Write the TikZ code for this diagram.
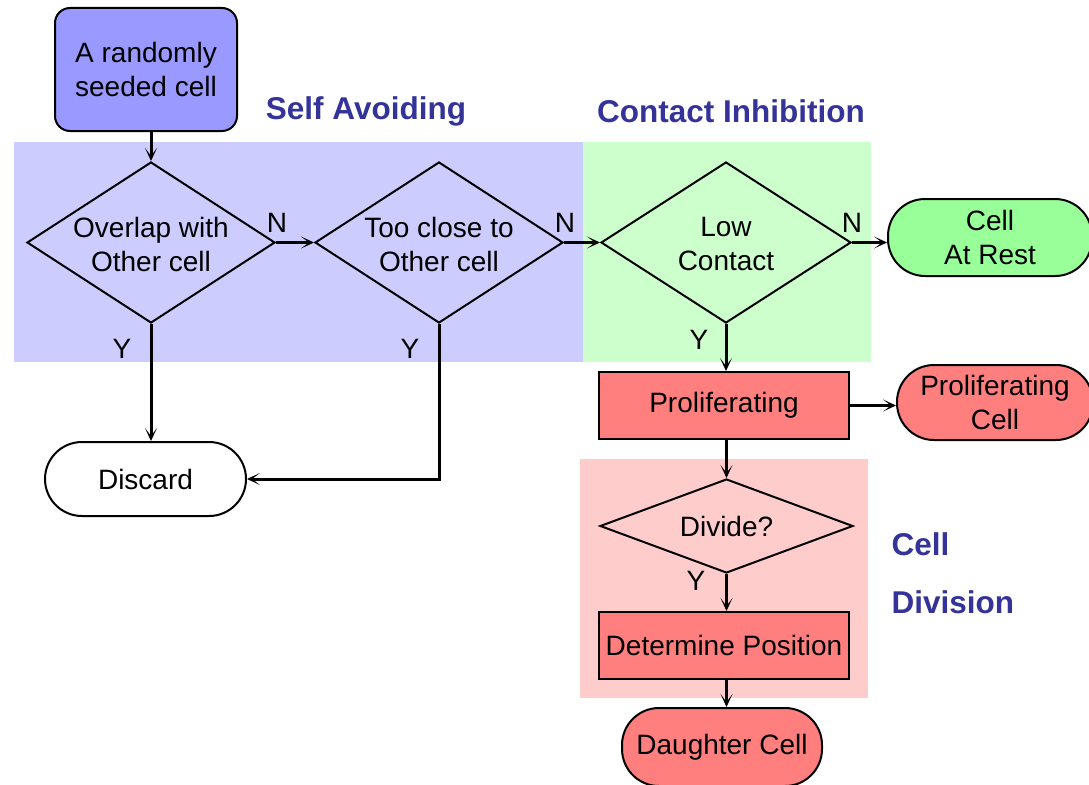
\documentclass[tikz,border=0pt]{standalone}
\usepackage{fontspec}
\setmainfont{Liberation Sans}
\usetikzlibrary{arrows.meta,shapes.geometric}
\definecolor{seedblue}{HTML}{9999FF}
\definecolor{bgblue}{HTML}{CCCCFF}
\definecolor{bggreen}{HTML}{CCFFCC}
\definecolor{restgreen}{HTML}{99FF99}
\definecolor{bgpink}{HTML}{FFCCCC}
\definecolor{salmon}{HTML}{FF7F7F}
\definecolor{hdrblue}{HTML}{333399}
\begin{document}
\begin{tikzpicture}[x=1pt,y=-1pt,
  every node/.style={font=\fontsize{28}{34}\selectfont, align=center},
  shp/.style={draw, line width=2pt, inner sep=0pt},
  boxr/.style={shp, rectangle},
  stad/.style={shp, rectangle, rounded corners=37pt},
  dia/.style={shp, diamond},
  hdr/.style={font=\fontsize{31.5}{36}\bfseries\selectfont, text=hdrblue},
  lbl/.style={font=\fontsize{28}{34}\selectfont},
  conn/.style={line width=3pt, -{Stealth[length=13pt,width=12pt,inset=8pt]}}]
\useasboundingbox (0,0) rectangle (1089,784);
\clip (0,0) rectangle (1089,784);
% backgrounds
\fill[bgblue] (14,142) rectangle (583,362);
\fill[bggreen] (583,142) rectangle (871,362);
\fill[bgpink] (580,459) rectangle (868,698);
% headers
\node[hdr] (hsa) at (366,111) {Self Avoiding};
\node[hdr] (hci) at (731,111) {Contact Inhibition};
\node[hdr, anchor=west] (hcell) at (888,544) {Cell};
\node[hdr, anchor=west] (hdiv) at (888,602) {Division};
% nodes
\node[boxr, fill=seedblue, rounded corners=15pt, minimum width=182pt, minimum height=123pt] (seed) at (146,69.5) {A randomly\\seeded cell};
\node[dia, minimum width=248pt, minimum height=161pt, label={[lbl,yshift=-2pt]center:Overlap with\\Other cell}] (d1) at (151,242.5) {};
\node[dia, minimum width=248pt, minimum height=161pt, label={[lbl,yshift=-2pt]center:Too close to\\Other cell}] (d2) at (439,242.5) {};
\node[dia, minimum width=250pt, minimum height=161pt, label={[lbl,yshift=-2pt]center:Low\\Contact}] (d3) at (726,242.5) {};
\node[stad, fill=restgreen, minimum width=204pt, minimum height=77pt] (rest) at (990,237.5) {Cell\\At Rest};
\node[stad, fill=white, minimum width=201pt, minimum height=74pt] (disc) at (145.5,479) {Discard};
\node[boxr, fill=salmon, minimum width=250pt, minimum height=67pt] (prol) at (724,405.5) {Proliferating};
\node[stad, fill=salmon, minimum width=196pt, minimum height=75pt] (pcell) at (995,402.5) {Proliferating\\Cell};
\node[dia, fill=bgpink, minimum width=253pt, minimum height=94pt, label={[lbl]center:Divide?}] (div) at (726.5,526) {};
\node[boxr, fill=salmon, minimum width=250pt, minimum height=67pt] (det) at (724,645.5) {Determine Position};
\node[stad, fill=salmon, minimum width=200pt, minimum height=78pt] (dau) at (722,747) {Daughter Cell};
% labels
\node[lbl] (n1) at (277,223) {N};
\node[lbl] (n2) at (565,223) {N};
\node[lbl] (n3) at (852,223) {N};
\node[lbl] (y1) at (122,349) {Y};
\node[lbl] (y2) at (410,349) {Y};
\node[lbl] (y3) at (699,340) {Y};
\node[lbl] (y4) at (696,581) {Y};
% connectors
\draw[conn] (d1.north |- seed.south) -- (d1.north);
\draw[conn] (d1.east) -- (d2.west);
\draw[conn] (d2.east) -- (d3.west);
\draw[conn] (d3.east) -- (d3.east -| rest.west);
\draw[conn] (d1.south) -- (d1.south |- disc.north);
\draw[conn] (d2.south) |- (disc.east);
\draw[conn] (d3.south) -- (d3.south |- prol.north);
\draw[conn] (prol.east) -- (prol.east -| pcell.west);
\draw[conn] (div.north |- prol.south) -- (div.north);
\draw[conn] (div.south) -- (div.south |- det.north);
\draw[conn] (det.south -| div.south) -- (div.south |- dau.north);
\end{tikzpicture}
\end{document}
